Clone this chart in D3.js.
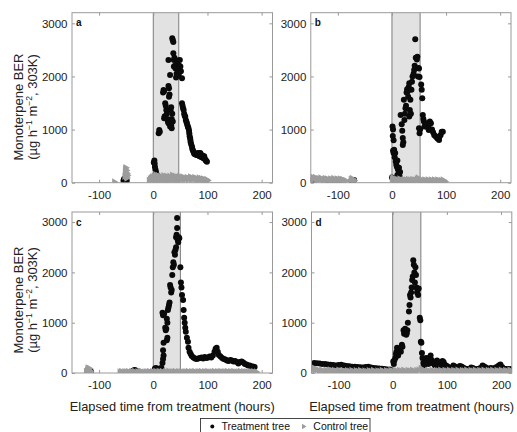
<!DOCTYPE html>
<html><head><meta charset="utf-8">
<script src="https://cdn.jsdelivr.net/npm/d3@7"></script>
<style>body{margin:0;background:#fff}svg{display:block}text{font-family:"Liberation Sans",Arial,sans-serif}</style>
</head><body><svg id="c" width="517" height="432"></svg>
<script>
const xDomain = [-150, 220];
const yDomain = [0, 3200];
const xTicks = [-100, 0, 100, 200];
const yTicks = [0, 1000, 2000, 3000];
const panelLetters = ["a", "b", "c", "d"];
const shadeEnd = [47, 52, 50, 52];
const xLabel = "Elapsed time from treatment (hours)";
const legendLabels = ["Treatment tree", "Control tree"];

const treatA = [[-55,40],[-54,70],[-53,55],[-52,80],[-51,45],[-50,65],[-49,35],
[1,380],[2,420],[2.5,360],[3,300],[4,250],[5,200],[6,160],[7,140],[8,120],[10,110],[12,95],
[10,930],[11,990],[12,960],[18,1700],[19,1745],[20,1720],
[20,1213],[21,1250],[22,1495],[23,1450],[24,1370],[25,1300],[26,1200],[27,1150],[28,1119],[28,1820],[29,1780],[29,1620],[30,1660],[31,1056],[31,2028],[32,1370],[33,1420],[33,1080],[34,1025],[34,1200],[35,1300],[36,1150],[35,2720],[36,2680],[37,2650],[37,2437],[38,2310],[38,2185],[39,2350],[28,2310],
[40,2200],[41,2150],[42,1980],[43,2050],[44,2248],[45,2300],[46,2100],[47,2028],[48,2200],[49,2310],[50,2185],[51,2100],[53,1966],
[53,1495],[54,1450],[55,1400],[56,1370],[57,1300],[58,1260],[59,1243],[60,1180],[61,1150],[62,1119],[63,1080],[64,1050],[65,1025],[66,980],[66.5,930],[67,880],[68,840],[68.5,804],[69,760],[70,720],[71.5,678],[72,640],[73,610],[74,585],[75,560],[76,540],[78,530],[80,520],[81,522],[82,560],[84,540],[85,500],[86,560],[87,553],[88,520],[89,480],[90,490],[91,510],[92,470],[93,460],[94,500],[95,450],[96,430],[97,420],[98,410],[99,395]];

const ctrlA = [[-72,15],[-53,120],[-52,260],[-52,200],[-51,280],[-51,160],[-50,230],[-50,110],[-49,180],[-49,90],[-48,140],
[-8,40],[-6,70],[-4,90],[-3,50],[-2,110],[0,80],[1,130],[2,60],[3,100],[4,150],[5,70],[6,110],[7,40],[8,90],[9,130],[10,60],[11,100],[12,70],[13,120],[14,50],[15,90],[16,110],[17,60],[18,80],[19,130],[20,70],[21,100],[22,50],[23,90],[24,120],[25,60],[26,80],[27,110],[28,50],[29,90],[30,120],[31,70],[32,100],[33,60],[34,90],[35,140],[36,70],[37,110],[38,60],[39,80],[40,120],[41,70],[42,100],[43,50],[44,90],[45,110],[46,60],[47,80],[48,120],[49,70],[50,100],[51,60],[52,80],[54,110],[56,60],[58,90],[60,70],[62,100],[64,60],[66,80],[68,110],[70,60],[72,90],[74,70],[76,100],[78,60],[80,80],[82,50],[84,90],[86,60],[88,80],[90,50],[92,70],[94,60],[96,40],[98,60],[100,40]];

const treatB = [[-148,60],[-146,40],[-118,30],[-106,25],[-98,30],[-75,40],[-72,30],[-70,50],
[0,100],[1,1060],[2,1000],[1.5,880],[3,800],[2,600],[3,560],[4,620],[5,480],[6,560],[7,400],[8,340],[9,300],[10,420],[11,250],[12,160],[13,280],[14,120],[15,200],[10,145],
[16,1275],[18,1100],[19,980],[20,840],[20,710],[21,760],[22,1560],[23,1180],[24,1300],[25,1400],[26,1450],[27,1700],[28,1760],[29,1715],[30,1620],[31,1800],[32,1870],[32,1245],[33,1370],[34,1560],[35,1300],[36,1750],[37,1900],[38,2000],[40,2050],[41,2120],[42,2200],[43,2700],[44,2350],[46,2320],[47,2370],[48,2000],[49,2160],[50,2150],[51,1990],[50,1025],[51,930],[52,1000],
[54,1850],[55,1750],[56,1590],[57,1275],[58,1200],[59,1150],[60,1060],[62,1120],[64,1087],[66,1040],[68,990],[69,1100],[70,1150],[72,1120],[74,1000],[76,950],[78,900],[80,880],[82,860],[84,830],[86,836],[87,804],[88,870],[90,900],[92,960],[94,960]];

const ctrlB = [[-150,90],[-148,110],[-146,60],[-144,80],[-142,100],[-140,70],[-138,50],[-136,80],[-134,60],[-132,90],[-130,70],[-128,40],[-126,60],[-124,80],[-122,50],[-120,70],[-118,60],[-116,40],[-114,70],[-112,50],[-110,60],[-108,80],[-106,50],[-104,40],[-102,70],[-100,60],[-98,50],[-96,70],[-94,40],[-92,60],[-90,50],[-88,30],[-86,40],[-76,60],[-74,80],[-72,50],[-70,40],
[0,60],[1,100],[2,40],[4,70],[6,50],[8,30],[10,60],[12,40],[14,70],[16,30],[18,50],[20,40],[22,60],[24,30],[26,50],[28,40],[30,60],[32,30],[34,50],[36,40],[38,60],[40,30],[42,50],[44,40],[46,70],[48,90],[50,40],[52,30],[54,50],[56,40],[58,30],[60,50],[62,40],[64,30],[66,50],[68,40],[70,30],[72,50],[74,40],[76,30],[78,50],[80,40],[82,30],[84,50],[86,40],[88,30],[90,40],[92,30],[94,50],[96,30],[98,20]];

const treatC = [[-118,20],[-115,30],[-38,40],[-35,60],[-33,55],[-30,35],[-5,20],
[3,90],[5,100],[8,80],[12,90],[15,100],
[17,200],[18,280],[19,350],[18,450],[19,600],[18,1150],[17,1200],[20,1180],[22,900],[23,850],[24,880],[25,650],[26,700],[25,1080],[26,1000],[27,1250],[28,1300],[29,1350],[30,1400],[31,1750],[32,1700],[33,1600],[34,1650],[35,1950],[36,2100],[37,2200],[38,2150],[39,2400],[40,2350],[41,2450],[42,2500],[42,2700],[43,2750],[44,3080],[44,2880],[45,2650],[46,2600],[47,2700],[48,2680],
[50,2100],[51,1800],[52,1700],[53,1550],[55,1450],[56,1250],[57,1100],[58,1000],[59,900],[60,820],[62,700],[64,620],[65,500],[67,420],[69,380],[71,340],[74,310],[77,290],[80,280],[83,290],[86,300],[89,310],[92,290],[95,320],[98,300],[101,310],[104,330],[107,310],[110,350],[113,420],[115,480],[117,500],[119,420],[121,360],[124,330],[127,300],[130,280],[133,270],[136,250],[139,240],[142,260],[145,250],[148,230],[151,240],[154,220],[157,190],[160,220],[163,230],[166,210],[169,180],[172,170],[175,150],[178,150],[181,130],[184,130],[187,120]];

const ctrlC = [[-124,30],[-122,60],[-121,100],[-120,80],[-119,50],[-118,90],[-117,40],[-116,20],
[-62,20],[-59,30],[-56,15],[-53,25],[-50,22],[-47,32],[-44,14],[-41,26],[-38,18],[-35,30],[-32,12],[-29,24],[-26,20],[-23,34],[-20,18],[-17,14],[-14,26],[-11,22],[-8,30],[-5,16],[-2,24],[1,20],[4,32],[7,14],[10,28],[13,18],[16,30],[19,12],[22,24],[25,20],[28,34],[31,16],[34,26],[37,22],[40,30],[43,14],[46,24],[49,18],[52,30],[55,16],[58,26],[61,20],[64,32],[67,14],[70,24],[73,18],[76,28],[79,12],[82,24],[85,22],[88,30],[91,16],[94,26],[97,18],[100,30],[103,14],[106,22],[109,20],[112,32],[115,16],[118,24],[121,22],[124,28],[127,14],[130,26],[133,18],[136,30],[139,16],[142,24],[145,20],[148,28],[151,14],[154,22],[157,18],[160,30],[163,16],[166,24],[169,20],[172,26],[175,14],[178,22],[181,18],[184,26],[187,14],[190,20]];

const treatD = [[-145,200],[-140,195],[-135,190],[-130,180],[-125,178],[-120,170],[-115,165],[-110,160],[-105,150],[-100,160],[-95,165],[-90,150],[-85,140],[-80,135],[-75,125],[-70,125],[-65,120],[-60,115],[-55,110],[-50,120],[-45,125],[-40,110],[-35,100],[-30,95],[-25,90],[-20,85],[-15,80],[-10,70],[-5,70],
[1,230],[2,180],[3,250],[5,300],[6,380],[7,420],[8,500],[9,400],[10,350],[12,450],[14,470],[15,420],[17,560],[18,520],[20,850],[21,780],[22,820],[23,880],[24,800],[25,760],[26,790],[27,850],[28,1000],[30,1220],[31,1350],[32,1550],[33,1500],[34,1600],[35,1700],[36,1850],[37,1920],[38,2240],[39,2150],[40,2000],[41,1800],[42,2100],[43,1950],[44,1700],[45,1600],[46,1650],[47,1550],[48,1680],
[50,1100],[51,1050],[52,620],[53,600],[54,400],[55,300],[57,200],[58,150],[60,250],[62,300],[64,230],[66,180],[68,300],[70,350],[72,260],[74,200],[76,180],[78,150],[80,220],[82,250],[84,180],[86,140],[88,130],[90,200],[92,240],[94,220],[96,170],[98,150],[100,140],[103,120],[106,100],[109,90],[112,150],[115,130],[118,110],[121,100],[124,140],[127,130],[130,110],[133,90],[136,80],[139,70],[142,80],[145,110],[148,100],[151,80],[154,70],[157,80],[160,90],[163,100],[166,150],[169,130],[172,110],[175,90],[178,80],[181,100],[184,90],[187,80],[190,110],[193,120],[196,150],[199,170],[202,120],[205,90],[208,80],[211,80],[214,70],[217,80]];

const ctrlD = [[-148,110],[-146,80],[-144,60],[-140,70],[-136,50],[-132,60],[-128,40],[-124,55],[-120,45],[-116,60],[-112,40],[-108,50],[-104,35],[-100,55],[-96,40],[-92,50],[-88,30],[-84,45],[-80,35],[-76,50],[-72,30],[-68,45],[-64,35],[-60,50],[-56,30],[-52,40],[-48,30],[-44,45],[-40,35],[-36,50],[-32,30],[-28,40],[-24,35],[-20,50],[-16,30],[-12,45],[-8,35],[-4,50],[0,40],[4,55],[8,35],[12,50],[16,40],[20,55],[24,35],[28,50],[32,40],[36,55],[40,35],[44,50],[48,60],[52,90],[56,45],[60,35],[64,50],[68,40],[72,55],[76,35],[80,50],[84,40],[88,55],[92,35],[96,50],[100,40],[104,55],[108,35],[112,50],[116,40],[120,55],[124,35],[128,50],[132,40],[136,55],[140,35],[144,50],[148,40],[152,55],[156,35],[160,50],[164,40],[168,55],[172,35],[176,50],[180,40],[184,55],[188,35],[192,50],[196,40],[200,55],[204,35],[208,50],[212,40],[216,55],[219,40]];

const treatSeries = [treatA, treatB, treatC, treatD];
const ctrlSeries = [ctrlA, ctrlB, ctrlC, ctrlD];

const svg = d3.select("#c");
const layout = [
  {left:72, right:272.5, top:12.7, bottom:182.7},
  {left:310.8, right:511, top:12.7, bottom:182.7},
  {left:72, right:272.5, top:212, bottom:373},
  {left:311.5, right:511.8, top:212, bottom:373}
];
const black = "#0a0a0a", grey = "#9c9c9c";
const tri = d3.symbol().type(d3.symbolTriangle).size(24);

layout.forEach((p, i) => {
  const x = d3.scaleLinear().domain(xDomain).range([p.left, p.right]);
  const y = d3.scaleLinear().domain(yDomain).range([p.bottom, p.top]);
  const g = svg.append("g");
  const cid = "clip" + i;
  svg.append("clipPath").attr("id", cid).append("rect")
    .attr("x", p.left).attr("y", p.top).attr("width", p.right - p.left).attr("height", p.bottom - p.top);

  g.append("rect").attr("x", x(0)).attr("y", p.top).attr("width", x(shadeEnd[i]) - x(0))
    .attr("height", p.bottom - p.top).attr("fill", "#e2e2e2");
  [0, shadeEnd[i]].forEach(v => g.append("line").attr("x1", x(v)).attr("x2", x(v))
    .attr("y1", p.top).attr("y2", p.bottom).attr("stroke", "#7c7c7c").attr("stroke-width", 1));

  const pts = g.append("g").attr("clip-path", `url(#${cid})`);
  pts.selectAll("circle").data(treatSeries[i]).join("circle")
    .attr("cx", d => x(d[0])).attr("cy", d => y(d[1])).attr("r", 3).attr("fill", black);
  pts.selectAll("path").data(ctrlSeries[i]).join("path")
    .attr("d", tri).attr("fill", grey)
    .attr("transform", d => `translate(${x(d[0])},${y(d[1])}) rotate(90)`);

  const axB = g.append("g").attr("transform", `translate(0,${p.bottom})`)
    .call(d3.axisBottom(x).tickValues(xTicks).tickSize(-3).tickPadding(8).tickFormat(d3.format("d")));
  const axT = g.append("g").attr("transform", `translate(0,${p.top})`)
    .call(d3.axisTop(x).tickValues(xTicks).tickSize(-3).tickFormat(""));
  const axL = g.append("g").attr("transform", `translate(${p.left},0)`)
    .call(d3.axisLeft(y).tickValues(yTicks).tickSize(-3).tickPadding(4.5).tickFormat(d3.format("d")));
  const axR = g.append("g").attr("transform", `translate(${p.right},0)`)
    .call(d3.axisRight(y).tickValues(yTicks).tickSize(-3).tickFormat(""));
  [axB, axT, axL, axR].forEach(a => {
    a.select(".domain").remove();
    a.selectAll(".tick line").attr("stroke", "#999");
    a.selectAll("text").attr("font-size", 11.5).attr("fill", "#222")
      .style("font-family", '"Liberation Sans", Arial, sans-serif')
      .text(function(){ return this.textContent.replace("\u2212", "-"); });
  });

  g.append("rect").attr("x", p.left).attr("y", p.top).attr("width", p.right - p.left)
    .attr("height", p.bottom - p.top).attr("fill", "none").attr("stroke", "#999").attr("stroke-width", 1);

  g.append("text").attr("x", p.left + 4).attr("y", p.top + 13.5).attr("font-size", 10)
    .attr("font-weight", "bold").attr("fill", "#111").text(panelLetters[i]);

  if (i >= 2) {
    g.append("text").attr("x", (p.left + p.right) / 2).attr("y", 410.5).attr("text-anchor", "middle")
      .attr("font-size", 12.8).attr("fill", "#222").text(xLabel);
  }
  if (i % 2 === 0) {
    const cy = i === 0 ? 107 : 300;
    g.append("text").attr("transform", `translate(23.3,${cy}) rotate(-90)`)
      .attr("text-anchor", "middle").attr("font-size", 13).attr("fill", "#222").text("Monoterpene BER");
    const t2 = g.append("text").attr("transform", `translate(37,${cy}) rotate(-90)`)
      .attr("text-anchor", "middle").attr("font-size", 13).attr("fill", "#222");
    t2.append("tspan").text("(\u00b5g h");
    t2.append("tspan").attr("font-size", 8.5).attr("dy", -5).text("\u22121");
    t2.append("tspan").attr("dy", 5).text(" m");
    t2.append("tspan").attr("font-size", 8.5).attr("dy", -5).text("\u22122");
    t2.append("tspan").attr("dy", 5).text(", 303K)");
  }
});

// legend
const lg = svg.append("g");
lg.append("rect").attr("x", 200.5).attr("y", 418.5).attr("width", 169.5).attr("height", 20)
  .attr("fill", "#fff").attr("stroke", "#333").attr("stroke-width", 0.9);
lg.append("circle").attr("cx", 212.3).attr("cy", 426.5).attr("r", 2).attr("fill", black);
lg.append("text").attr("x", 221.5).attr("y", 430.3).attr("font-size", 10.5).attr("fill", "#111").text(legendLabels[0]);
lg.append("path").attr("d", d3.symbol().type(d3.symbolTriangle).size(12)).attr("fill", grey)
  .attr("transform", "translate(303.5,426.5) rotate(90)");
lg.append("text").attr("x", 313.3).attr("y", 430.3).attr("font-size", 10.5).attr("fill", "#111").text(legendLabels[1]);
</script></body></html>
